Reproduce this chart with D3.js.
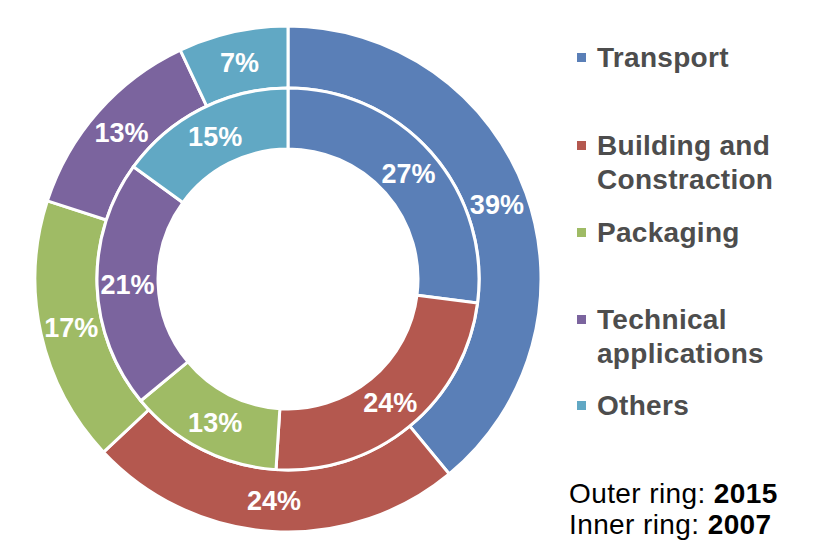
<!DOCTYPE html>
<html><head><meta charset="utf-8">
<script src="https://cdn.jsdelivr.net/npm/d3@7"></script>
<style>body{margin:0;background:#fff}svg{display:block}</style>
</head><body>
<svg id="c" width="834" height="554"></svg>
<script>
const categories = ["Transport", "Building and Constraction", "Packaging", "Technical applications", "Others"];
const legendLines = [["Transport"], ["Building and", "Constraction"], ["Packaging"], ["Technical", "applications"], ["Others"]];
const outer2015 = [39, 24, 17, 13, 7];
const inner2007 = [27, 24, 13, 21, 15];
const colors = ["#5a7fb7", "#b4584f", "#9fbb65", "#7b649e", "#61a8c4"];

const svg = d3.select("#c");
const cx = 288, cy = 279;
const g = svg.append("g").attr("transform", `translate(${cx},${cy})`);
const pie = d3.pie().sort(null).value(d => d);
const color = d3.scaleOrdinal().domain(d3.range(categories.length)).range(colors);

function ring(data, r0, r1, cls) {
  const arc = d3.arc().innerRadius(r0).outerRadius(r1);
  const arcs = pie(data);
  const gg = g.append("g").attr("class", cls);
  gg.selectAll("path").data(arcs).join("path")
    .attr("d", arc).attr("fill", (d, i) => color(i))
    .attr("stroke", "#fff").attr("stroke-width", 3).attr("stroke-linejoin", "miter");
  gg.selectAll("text").data(arcs).join("text")
    .attr("transform", d => `translate(${arc.centroid(d)})`)
    .attr("text-anchor", "middle").attr("dy", "0.36em")
    .attr("fill", "#fff").attr("font-family", "Liberation Sans, Arial, sans-serif")
    .attr("font-weight", "bold").attr("font-size", 27)
    .text(d => d.data + "%");
}
ring(outer2015, 191, 253, "outer");
ring(inner2007, 130, 191, "inner");

const legendY = [58, 146, 233, 320, 406];
const lg = svg.append("g");
categories.forEach((c, i) => {
  lg.append("rect").attr("x", 577).attr("y", legendY[i] - 5).attr("width", 9).attr("height", 9).attr("fill", color(i));
  const t = lg.append("text").attr("x", 597).attr("y", legendY[i] + 9)
    .attr("font-family", "Liberation Sans, Arial, sans-serif").attr("font-weight", "bold")
    .attr("font-size", 28).attr("letter-spacing", 0.3).attr("fill", "#4d4d4d");
  legendLines[i].forEach((ln, j) => t.append("tspan").attr("x", 597).attr("dy", j ? 34 : 0).text(ln));
});

const notes = [["Outer ring: ", "2015"], ["Inner ring: ", "2007"]];
notes.forEach((n, i) => {
  const t = svg.append("text").attr("x", 569).attr("y", 503 + i * 31)
    .attr("font-family", "Liberation Sans, Arial, sans-serif").attr("font-size", 28)
    .attr("letter-spacing", 0.4).attr("fill", "#000");
  t.append("tspan").text(n[0]);
  t.append("tspan").attr("font-weight", "bold").text(n[1]);
});
</script>
</body></html>
